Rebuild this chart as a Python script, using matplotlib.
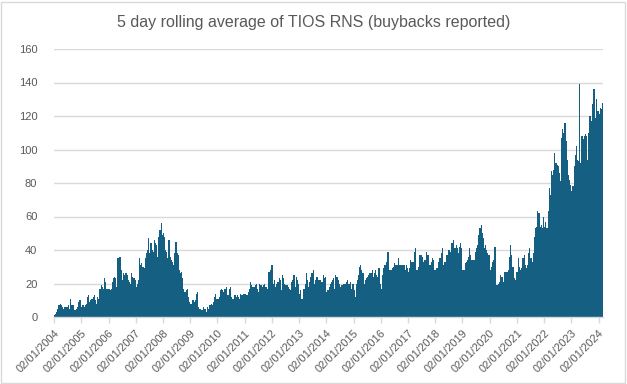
import matplotlib
matplotlib.use('Agg')
import matplotlib.pyplot as plt
from matplotlib import font_manager
from matplotlib.patches import Rectangle
import datetime as dt

# Semi-monthly readings (1st and 16th of each month), Jan 2004 .. Feb 2024
v2004 = [1, 2, 3, 5, 7, 8, 7, 6, 5, 6, 6, 6, 7, 5, 11, 7, 7, 7, 4, 5, 6, 9, 10, 10]
v2005 = [6, 7, 6, 7, 8, 12, 13, 9, 10, 11, 12, 13, 10, 8, 12, 11, 17, 19, 18, 17, 23, 21, 17, 17]
v2006 = [17, 16, 17, 21, 23, 24, 23, 18, 35, 36, 36, 28, 22, 26, 25, 26, 25, 22, 21, 20, 26, 24, 23, 22]
v2007 = [18, 20, 22, 35, 31, 32, 30, 29, 35, 38, 40, 47, 38, 44, 40, 39, 46, 44, 43, 36, 48, 52, 56, 49]
v2008 = [50, 48, 40, 39, 35, 46, 36, 34, 33, 31, 38, 45, 38, 37, 28, 26, 27, 23, 17, 15, 16, 17, 12, 9]
v2009 = [8, 8, 10, 9, 10, 14, 15, 6, 5, 5, 4, 6, 5, 5, 3, 6, 5, 7, 8, 7, 9, 12, 14, 11]
v2010 = [11, 12, 16, 17, 16, 15, 17, 17, 18, 13, 17, 18, 12, 11, 11, 13, 12, 13, 12, 11, 14, 13, 13, 14]
v2011 = [14, 13, 13, 15, 17, 21, 19, 18, 18, 19, 20, 17, 15, 20, 19, 18, 19, 20, 18, 18, 17, 27, 28, 31]
v2012 = [31, 20, 22, 18, 20, 21, 23, 22, 16, 25, 23, 20, 19, 19, 18, 17, 16, 21, 22, 25, 18, 24, 22, 20]
v2013 = [14, 16, 11, 17, 17, 20, 26, 22, 18, 21, 24, 26, 28, 20, 22, 24, 24, 22, 22, 21, 21, 25, 23, 24]
v2014 = [15, 16, 18, 20, 21, 22, 23, 17, 25, 24, 22, 20, 18, 19, 19, 20, 20, 21, 22, 20, 20, 21, 17, 20]
v2015 = [16, 12, 20, 22, 25, 30, 31, 28, 26, 20, 22, 23, 24, 25, 26, 26, 28, 24, 26, 28, 25, 24, 29, 20]
v2016 = [17, 25, 29, 31, 31, 33, 39, 28, 28, 28, 29, 30, 32, 31, 31, 35, 31, 31, 31, 31, 31, 28, 31, 29]
v2017 = [27, 29, 34, 33, 33, 39, 41, 28, 28, 30, 37, 37, 36, 33, 34, 34, 39, 37, 37, 31, 33, 35, 34, 28]
v2018 = [28, 29, 33, 35, 35, 38, 41, 31, 33, 33, 37, 40, 40, 39, 44, 44, 46, 41, 43, 41, 38, 42, 44, 41]
v2019 = [28, 28, 32, 33, 34, 36, 41, 37, 34, 34, 34, 39, 41, 43, 49, 53, 55, 50, 47, 41, 43, 40, 38, 37]
v2020 = [28, 30, 33, 34, 42, 42, 19, 20, 21, 25, 24, 24, 21, 27, 27, 27, 28, 36, 43, 37, 30, 23, 22, 27]
v2021 = [27, 35, 30, 28, 29, 35, 37, 31, 29, 31, 38, 41, 35, 33, 38, 48, 53, 54, 63, 62, 54, 55, 53, 60]
v2022 = [54, 57, 53, 63, 77, 73, 87, 85, 88, 98, 92, 91, 90, 86, 81, 107, 112, 110, 116, 105, 94, 85, 82, 79]
v2023 = [75, 78, 90, 97, 102, 94, 93, 139, 92, 108, 106, 108, 109, 108, 94, 110, 120, 117, 127, 136, 136, 119, 130, 123]
v2024 = [121, 125, 124, 128]

years = list(range(2004, 2025))
series = [v2004, v2005, v2006, v2007, v2008, v2009, v2010, v2011, v2012, v2013,
          v2014, v2015, v2016, v2017, v2018, v2019, v2020, v2021, v2022, v2023, v2024]
tick_years = list(range(2004, 2025))
title = "5 day rolling average of TIOS RNS (buybacks reported)"

dates, values = [], []
for y, vals in zip(years, series):
    for i, v in enumerate(vals):
        dates.append(dt.date(y, i // 2 + 1, 1 if i % 2 == 0 else 16))
        values.append(v)
end_date = dt.date(2024, 3, 1)
edges = dates + [end_date]
widths = [(edges[k + 1] - edges[k]).days + 0.4 for k in range(len(dates))]

available = {f.name for f in font_manager.fontManager.ttflist}
narrow = 'Liberation Sans Narrow' in available
fam = ['Liberation Sans Narrow', 'DejaVu Sans'] if narrow else ['Liberation Sans', 'DejaVu Sans']
plt.rcParams['font.family'] = fam

W, H = 627, 384
fig = plt.figure(figsize=(W / 100, H / 100), dpi=100)
fig.patch.set_facecolor('white')
fig.patches.append(Rectangle((1 / W, 1 / H), 1 - 3 / W, 1 - 3 / H, transform=fig.transFigure,
                             fill=False, edgecolor='#D9D9D9', lw=1.0))

left, right, bottom, top = 54, 603, 317, 49
ax = fig.add_axes([left / W, 1 - bottom / H, (right - left) / W, (bottom - top) / H])

color = '#156082'
ax.bar(dates, values, width=widths, align='edge', color=color, lw=0)

ax.set_xlim(dt.date(2004, 1, 1), end_date)
ax.set_ylim(0, 160)
ax.set_yticks(range(0, 161, 20))
ax.yaxis.grid(True, color='#D9D9D9', lw=1.0)
ax.set_axisbelow(True)
for s in ['top', 'right', 'left']:
    ax.spines[s].set_visible(False)
ax.spines['bottom'].set_color('#D9D9D9')
ax.spines['bottom'].set_linewidth(1.0)
ax.spines['bottom'].set_zorder(3)

ticks = [dt.date(y, 1, 2) for y in tick_years]
ax.set_xticks(ticks)
ax.set_xticklabels([t.strftime('%d/%m/%Y') for t in ticks], rotation=45, ha='right',
                   va='top', rotation_mode='anchor')
fs = 9.5 if narrow else 8
ax.tick_params(axis='x', colors='#D9D9D9', length=4, width=1.0, labelcolor='#595959',
               labelsize=fs, pad=4)
ax.tick_params(axis='y', length=0, labelcolor='#595959', labelsize=fs, pad=12)

fig.text(0.5, 1 - 22 / H, title, ha='center', va='center', color='#595959',
         fontsize=14 if narrow else 11.5)

fig.savefig('out.png', dpi=100, facecolor='white')
